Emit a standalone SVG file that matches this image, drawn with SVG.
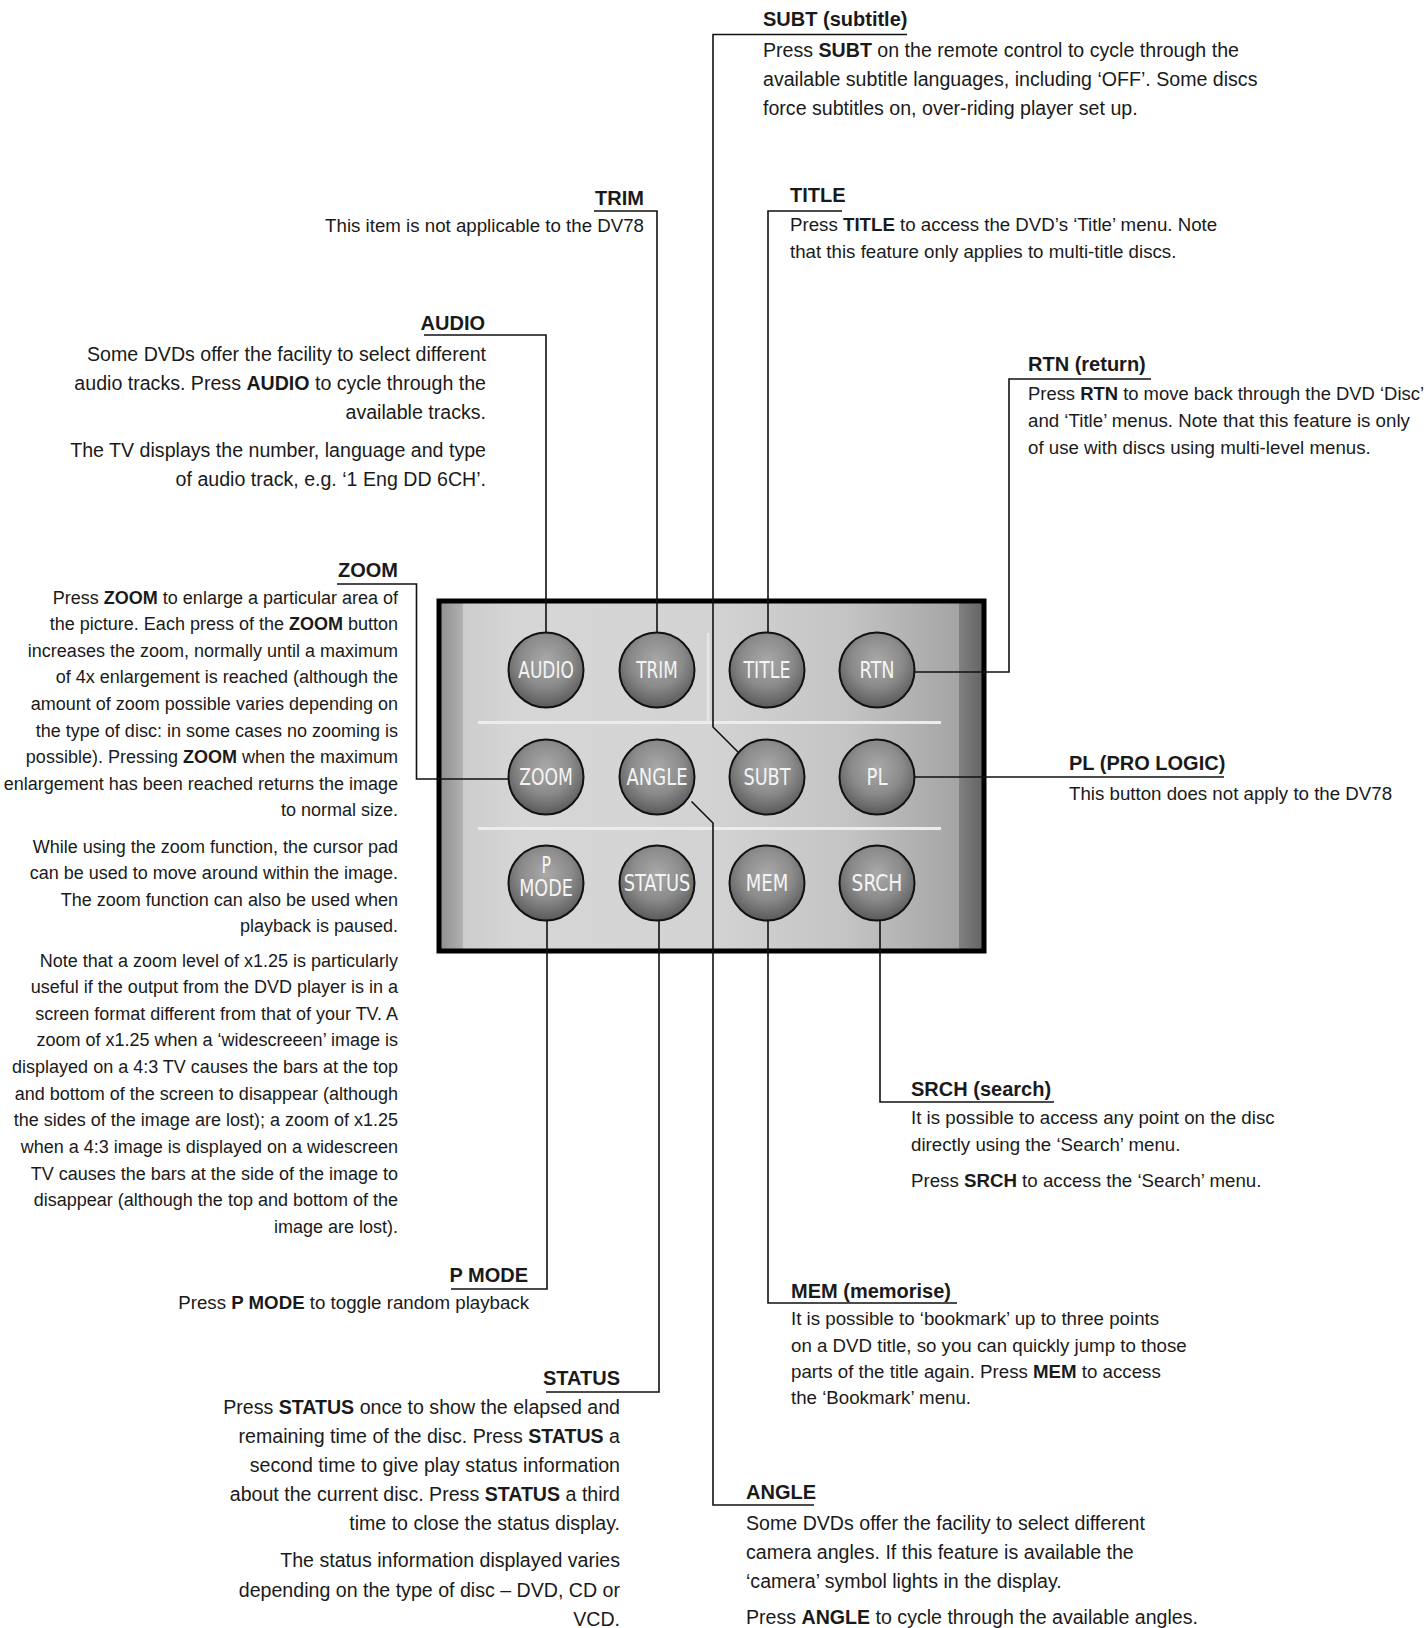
<svg xmlns="http://www.w3.org/2000/svg" width="1428" height="1628" viewBox="0 0 1428 1628">
<style>
text{font-family:"Liberation Sans",Arial,sans-serif;fill:#1a1a1a}
.t{font-size:20px;font-weight:bold}
.b1{font-size:19.6px}
.b2{font-size:18.7px}
.b3{font-size:18px}
.e{text-anchor:end}
.k{font-weight:bold}
.lbl{font-family:"Liberation Sans Narrow","DejaVu Sans Condensed","Liberation Sans",sans-serif;font-size:23px;fill:#f4f4f4}
.knob{fill:url(#knob);stroke:#111;stroke-width:2}
.conn polyline{fill:none;stroke:#111;stroke-width:1.6}
</style>
<defs>
<linearGradient id="panel" x1="0" y1="0" x2="1" y2="0">
<stop offset="0" stop-color="#8e8e8e"/>
<stop offset="0.043" stop-color="#b0b0b0"/>
<stop offset="0.044" stop-color="#cdcdcd"/>
<stop offset="0.15" stop-color="#d6d6d6"/>
<stop offset="0.5" stop-color="#d3d3d3"/>
<stop offset="0.75" stop-color="#c4c4c4"/>
<stop offset="0.954" stop-color="#a4a4a4"/>
<stop offset="0.955" stop-color="#808080"/>
<stop offset="1" stop-color="#626262"/>
</linearGradient>
<radialGradient id="knob" cx="0.5" cy="0.38" r="0.62">
<stop offset="0" stop-color="#a9a9a9"/>
<stop offset="0.55" stop-color="#8b8b8b"/>
<stop offset="1" stop-color="#5a5a5a"/>
</radialGradient>
</defs>

<g id="panel-box">
<rect x="439" y="601" width="545" height="350" fill="url(#panel)" stroke="#000" stroke-width="5"/>
<rect x="478" y="721" width="463" height="3" fill="#ececec"/>
<rect x="478" y="827" width="463" height="3" fill="#ececec"/>
<rect x="707" y="633" width="2.5" height="89" fill="#e6e6e6"/>
</g>

<g id="connectors" class="conn">
<polyline points="546,632.5 546,335 424,335"/>
<polyline points="657,632.5 657,211 594,211"/>
<polyline points="768,632.5 768,211 842,211"/>
<polyline points="738,752 713,727 713,34.5 907,34.5"/>
<polyline points="914.5,672 1009,672 1009,379 1151,379"/>
<polyline points="508.5,779 416.5,779 416.5,584 337,584"/>
<polyline points="914.5,777 1224,777"/>
<polyline points="691.5,801.5 713,823 713,1505 814,1505"/>
<polyline points="547,920.5 547,1289 451,1289"/>
<polyline points="659,920.5 659,1392 546,1392"/>
<polyline points="768,920.5 768,1303 957,1303"/>
<polyline points="880,920.5 880,1102 1054,1102"/>
</g>

<g id="btn-audio"><circle class="knob" cx="546" cy="670" r="37.5"/><text class="lbl" x="518.3" y="678" textLength="55.5" lengthAdjust="spacingAndGlyphs">AUDIO</text></g>
<g id="btn-trim"><circle class="knob" cx="657" cy="670" r="37.5"/><text class="lbl" x="636.3" y="678" textLength="41.4" lengthAdjust="spacingAndGlyphs">TRIM</text></g>
<g id="btn-title"><circle class="knob" cx="767" cy="670" r="37.5"/><text class="lbl" x="743.5" y="678" textLength="47" lengthAdjust="spacingAndGlyphs">TITLE</text></g>
<g id="btn-rtn"><circle class="knob" cx="877" cy="670" r="37.5"/><text class="lbl" x="859.5" y="678" textLength="35" lengthAdjust="spacingAndGlyphs">RTN</text></g>
<g id="btn-zoom"><circle class="knob" cx="546" cy="777" r="37.5"/><text class="lbl" x="519.2" y="785" textLength="53.6" lengthAdjust="spacingAndGlyphs">ZOOM</text></g>
<g id="btn-angle"><circle class="knob" cx="657" cy="777" r="37.5"/><text class="lbl" x="626.5" y="785" textLength="61" lengthAdjust="spacingAndGlyphs">ANGLE</text></g>
<g id="btn-subt"><circle class="knob" cx="767" cy="777" r="37.5"/><text class="lbl" x="743.5" y="785" textLength="47" lengthAdjust="spacingAndGlyphs">SUBT</text></g>
<g id="btn-pl"><circle class="knob" cx="877" cy="777" r="37.5"/><text class="lbl" x="866.5" y="785" textLength="21" lengthAdjust="spacingAndGlyphs">PL</text></g>
<g id="btn-pmode"><circle class="knob" cx="546" cy="883" r="37.5"/><text class="lbl" x="541.5" y="873" textLength="9.5" lengthAdjust="spacingAndGlyphs">P</text><text class="lbl" x="519.2" y="896" textLength="53.6" lengthAdjust="spacingAndGlyphs">MODE</text></g>
<g id="btn-status"><circle class="knob" cx="657" cy="883" r="37.5"/><text class="lbl" x="623.7" y="891" textLength="66.6" lengthAdjust="spacingAndGlyphs">STATUS</text></g>
<g id="btn-mem"><circle class="knob" cx="767" cy="883" r="37.5"/><text class="lbl" x="745.7" y="891" textLength="42.5" lengthAdjust="spacingAndGlyphs">MEM</text></g>
<g id="btn-srch"><circle class="knob" cx="877" cy="883" r="37.5"/><text class="lbl" x="851.6" y="891" textLength="50.7" lengthAdjust="spacingAndGlyphs">SRCH</text></g>

<g id="note-subt">
<text class="t" x="763" y="26">SUBT (subtitle)</text>
<text class="b1" x="763" y="57">Press <tspan class="k">SUBT</tspan> on the remote control to cycle through the</text>
<text class="b1" x="763" y="86">available subtitle languages, including ‘OFF’. Some discs</text>
<text class="b1" x="763" y="115">force subtitles on, over-riding player set up.</text>
</g>

<g id="note-trim">
<text class="t e" x="644" y="205">TRIM</text>
<text class="b2 e" x="644" y="232">This item is not applicable to the DV78</text>
</g>

<g id="note-title">
<text class="t" x="790" y="202">TITLE</text>
<text class="b2" x="790" y="231">Press <tspan class="k">TITLE</tspan> to access the DVD’s ‘Title’ menu. Note</text>
<text class="b2" x="790" y="258">that this feature only applies to multi-title discs.</text>
</g>

<g id="note-audio">
<text class="t e" x="485" y="330">AUDIO</text>
<text class="b1 e" x="486" y="361">Some DVDs offer the facility to select different</text>
<text class="b1 e" x="486" y="390">audio tracks. Press <tspan class="k">AUDIO</tspan> to cycle through the</text>
<text class="b1 e" x="486" y="419">available tracks.</text>
<text class="b1 e" x="486" y="457">The TV displays the number, language and type</text>
<text class="b1 e" x="486" y="486">of audio track, e.g. ‘1 Eng DD 6CH’.</text>
</g>

<g id="note-rtn">
<text class="t" x="1028" y="371">RTN (return)</text>
<text class="b2" x="1028" y="400" textLength="396" lengthAdjust="spacingAndGlyphs">Press <tspan class="k">RTN</tspan> to move back through the DVD ‘Disc’</text>
<text class="b2" x="1028" y="427">and ‘Title’ menus. Note that this feature is only</text>
<text class="b2" x="1028" y="454">of use with discs using multi-level menus.</text>
</g>

<g id="note-zoom">
<text class="t e" x="398" y="577">ZOOM</text>
<text class="b3 e" x="398" y="604">Press <tspan class="k">ZOOM</tspan> to enlarge a particular area of</text>
<text class="b3 e" x="398" y="630">the picture. Each press of the <tspan class="k">ZOOM</tspan> button</text>
<text class="b3 e" x="398" y="657">increases the zoom, normally until a maximum</text>
<text class="b3 e" x="398" y="683">of 4x enlargement is reached (although the</text>
<text class="b3 e" x="398" y="710">amount of zoom possible varies depending on</text>
<text class="b3 e" x="398" y="737">the type of disc: in some cases no zooming is</text>
<text class="b3 e" x="398" y="763">possible). Pressing <tspan class="k">ZOOM</tspan> when the maximum</text>
<text class="b3 e" x="398" y="790">enlargement has been reached returns the image</text>
<text class="b3 e" x="398" y="816">to normal size.</text>
<text class="b3 e" x="398" y="853">While using the zoom function, the cursor pad</text>
<text class="b3 e" x="398" y="879">can be used to move around within the image.</text>
<text class="b3 e" x="398" y="905.5">The zoom function can also be used when</text>
<text class="b3 e" x="398" y="931.5">playback is paused.</text>
<text class="b3 e" x="398" y="967">Note that a zoom level of x1.25 is particularly</text>
<text class="b3 e" x="398" y="993">useful if the output from the DVD player is in a</text>
<text class="b3 e" x="398" y="1020">screen format different from that of your TV. A</text>
<text class="b3 e" x="398" y="1046">zoom of x1.25 when a ‘widescreeen’ image is</text>
<text class="b3 e" x="398" y="1073">displayed on a 4:3 TV causes the bars at the top</text>
<text class="b3 e" x="398" y="1100">and bottom of the screen to disappear (although</text>
<text class="b3 e" x="398" y="1126">the sides of the image are lost); a zoom of x1.25</text>
<text class="b3 e" x="398" y="1153">when a 4:3 image is displayed on a widescreen</text>
<text class="b3 e" x="398" y="1180">TV causes the bars at the side of the image to</text>
<text class="b3 e" x="398" y="1206">disappear (although the top and bottom of the</text>
<text class="b3 e" x="398" y="1233">image are lost).</text>
</g>

<g id="note-pl">
<text class="t" x="1069" y="770">PL (PRO LOGIC)</text>
<text class="b2" x="1069" y="800">This button does not apply to the DV78</text>
</g>

<g id="note-srch">
<text class="t" x="911" y="1096">SRCH (search)</text>
<text class="b2" x="911" y="1124">It is possible to access any point on the disc</text>
<text class="b2" x="911" y="1151">directly using the ‘Search’ menu.</text>
<text class="b2" x="911" y="1187">Press <tspan class="k">SRCH</tspan> to access the ‘Search’ menu.</text>
</g>

<g id="note-pmode">
<text class="t e" x="528" y="1282">P MODE</text>
<text class="b2 e" x="529" y="1309">Press <tspan class="k">P MODE</tspan> to toggle random playback</text>
</g>

<g id="note-status">
<text class="t e" x="620" y="1385">STATUS</text>
<text class="b1 e" x="620" y="1414">Press <tspan class="k">STATUS</tspan> once to show the elapsed and</text>
<text class="b1 e" x="620" y="1443">remaining time of the disc. Press <tspan class="k">STATUS</tspan> a</text>
<text class="b1 e" x="620" y="1472">second time to give play status information</text>
<text class="b1 e" x="620" y="1501">about the current disc. Press <tspan class="k">STATUS</tspan> a third</text>
<text class="b1 e" x="620" y="1530">time to close the status display.</text>
<text class="b1 e" x="620" y="1567">The status information displayed varies</text>
<text class="b1 e" x="620" y="1597">depending on the type of disc – DVD, CD or</text>
<text class="b1 e" x="620" y="1626">VCD.</text>
</g>

<g id="note-mem">
<text class="t" x="791" y="1298">MEM (memorise)</text>
<text class="b2" x="791" y="1325">It is possible to ‘bookmark’ up to three points</text>
<text class="b2" x="791" y="1352">on a DVD title, so you can quickly jump to those</text>
<text class="b2" x="791" y="1378">parts of the title again. Press <tspan class="k">MEM</tspan> to access</text>
<text class="b2" x="791" y="1404">the ‘Bookmark’ menu.</text>
</g>

<g id="note-angle">
<text class="t" x="746" y="1499">ANGLE</text>
<text class="b1" x="746" y="1530">Some DVDs offer the facility to select different</text>
<text class="b1" x="746" y="1559">camera angles. If this feature is available the</text>
<text class="b1" x="746" y="1588">‘camera’ symbol lights in the display.</text>
<text class="b1" x="746" y="1624">Press <tspan class="k">ANGLE</tspan> to cycle through the available angles.</text>
</g>
</svg>
